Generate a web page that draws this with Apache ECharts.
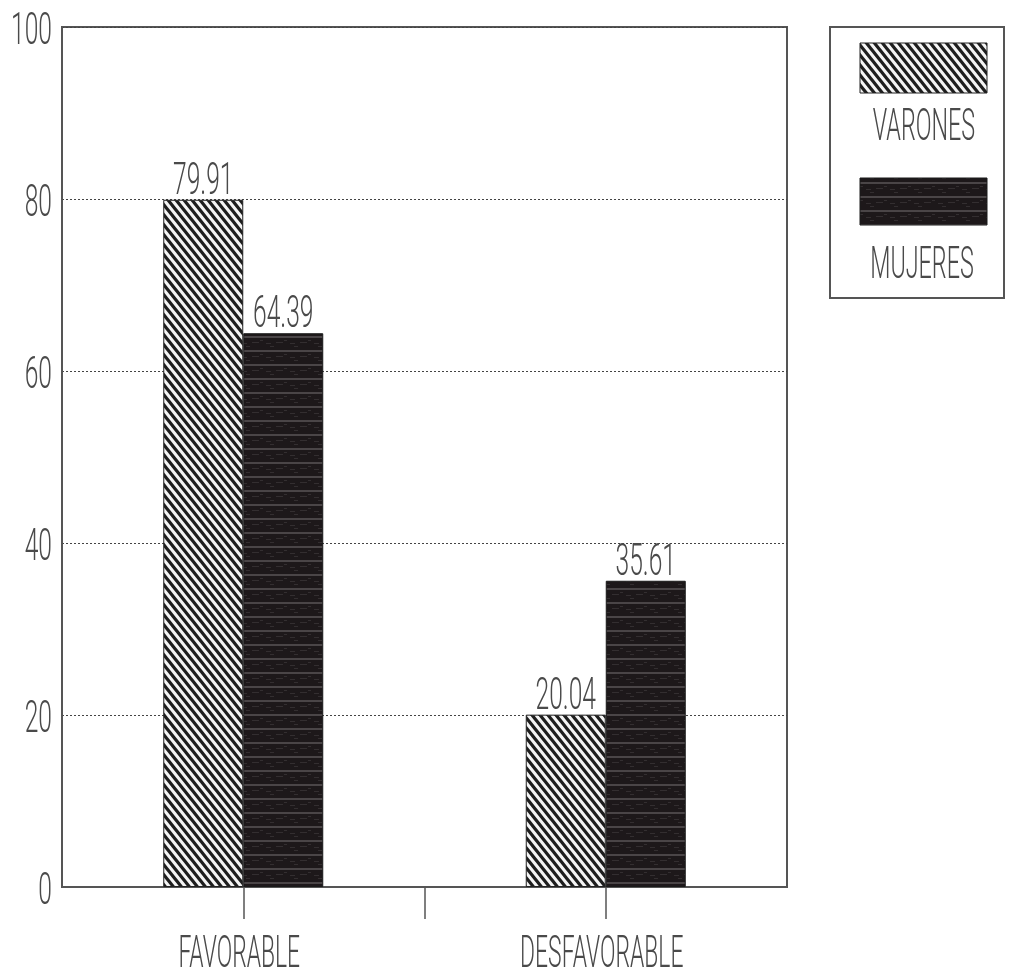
<!DOCTYPE html>
<html><head><meta charset="utf-8">
<script src="https://cdn.jsdelivr.net/npm/echarts@6/dist/echarts.min.js"></script>
<style>html,body{margin:0;padding:0;background:#fff}#c{width:1009px;height:979px}</style>
</head><body><div id="c"></div>
<script>
const categories = ['FAVORABLE', 'DESFAVORABLE'];
const seriesNames = ['VARONES', 'MUJERES'];
const varones = [79.91, 20.04];
const mujeres = [64.39, 35.61];
const yTicks = [0, 20, 40, 60, 80, 100];

const FONT_FAMILY = 'Roboto, "Liberation Sans Narrow", sans-serif';
const TXT = '#4a4a4a';

function hatchCanvas() {
  const w = 8, h = 10;
  const c = document.createElement('canvas'); c.width = w; c.height = h;
  const g = c.getContext('2d');
  g.fillStyle = '#f4f4f4'; g.fillRect(0, 0, w, h);
  g.strokeStyle = '#1e1e1e'; g.lineWidth = 3.2; g.beginPath();
  for (let k = -1; k <= 1; k++) { g.moveTo(k * w - w, -h); g.lineTo(k * w + 2 * w, 2 * h); }
  g.stroke();
  return c;
}
function darkCanvas() {
  const c = document.createElement('canvas'); c.width = 24; c.height = 14;
  const g = c.getContext('2d');
  g.fillStyle = '#1d181a'; g.fillRect(0, 0, 24, 14);
  g.fillStyle = '#4a4547'; g.fillRect(0, 0, 24, 2);
  g.fillStyle = '#332e30';
  g.fillRect(2, 7, 5, 1); g.fillRect(12, 6, 7, 1); g.fillRect(20, 4, 3, 1); g.fillRect(6, 10, 4, 1);
  return c;
}
const hatchFill = { image: hatchCanvas(), repeat: 'repeat' };
const darkFill = { image: darkCanvas(), repeat: 'repeat' };

const chart = echarts.init(document.getElementById('c'), null, { renderer: 'canvas' });
const option = {
  animation: false,
  backgroundColor: '#ffffff',
  grid: { left: 62, top: 27, right: 222, bottom: 92, show: true, borderColor: '#555', borderWidth: 2, backgroundColor: 'transparent' },
  xAxis: [
    { type: 'category', data: categories, axisLine: { lineStyle: { color: '#555', width: 2 } },
      axisTick: { show: false }, axisLabel: { show: false }, splitLine: { show: false } },
    { type: 'value', min: 0, max: 2, position: 'bottom', axisLine: { show: false },
      axisTick: { show: true, length: 32, customValues: [0.5, 1, 1.5], lineStyle: { color: '#555', width: 1.5 } },
      axisLabel: { show: false }, splitLine: { show: false } }
  ],
  yAxis: { type: 'value', min: 0, max: 100, interval: 20,
    axisLine: { show: true, lineStyle: { color: '#555', width: 2 } }, axisTick: { show: false },
    axisLabel: { show: false },
    splitLine: { show: true, lineStyle: { color: '#444', width: 1, type: [2, 2] } } },
  series: [
    { name: seriesNames[0], type: 'bar', data: varones, barWidth: 80, barGap: '0%', xAxisIndex: 0,
      itemStyle: { color: hatchFill, borderColor: '#222', borderWidth: 1 } },
    { name: seriesNames[1], type: 'bar', data: mujeres, barWidth: 80, barGap: '0%', xAxisIndex: 0,
      itemStyle: { color: darkFill, borderColor: '#1a1a1a', borderWidth: 1 } }
  ]
};
chart.setOption(option);

function txt(x, y, s, sx, align) {
  return { type: 'text', x: x, y: y, scaleX: sx, z: 100,
    style: { text: s, fill: TXT, font: '300 44px ' + FONT_FAMILY, align: align || 'center', verticalAlign: 'middle' } };
}
const g = [];
yTicks.forEach(v => {
  const py = chart.convertToPixel({ yAxisIndex: 0 }, v);
  g.push(txt(52, py + 6, String(v), 0.56, 'right'));
});
categories.forEach((c, i) => {
  const px = chart.convertToPixel({ xAxisIndex: 0 }, i);
  g.push(txt(px - 4, 956, c, 0.52));
});
[varones, mujeres].forEach((arr, si) => {
  const data = chart.getModel().getSeriesByIndex(si).getData();
  arr.forEach((v, i) => {
    const l = data.getItemLayout(i);
    const top = Math.min(l.y, l.y + l.height);
    g.push(txt(l.x + l.width / 2, top - 17, v.toFixed(2), 0.56));
  });
});
// legend
g.push({ type: 'rect', shape: { x: 830, y: 27, width: 174, height: 271 }, style: { fill: '#fff', stroke: '#555', lineWidth: 2 }, z: 50 });
g.push({ type: 'rect', shape: { x: 860, y: 43, width: 127, height: 50 }, style: { fill: hatchFill, stroke: '#222', lineWidth: 1 }, z: 60 });
g.push(txt(924, 129, seriesNames[0], 0.53));
g.push({ type: 'rect', shape: { x: 860, y: 178, width: 127, height: 47 }, style: { fill: darkFill, stroke: '#1a1a1a', lineWidth: 1 }, z: 60 });
g.push(txt(922, 267, seriesNames[1], 0.53));
chart.setOption({ graphic: g });
</script></body></html>
